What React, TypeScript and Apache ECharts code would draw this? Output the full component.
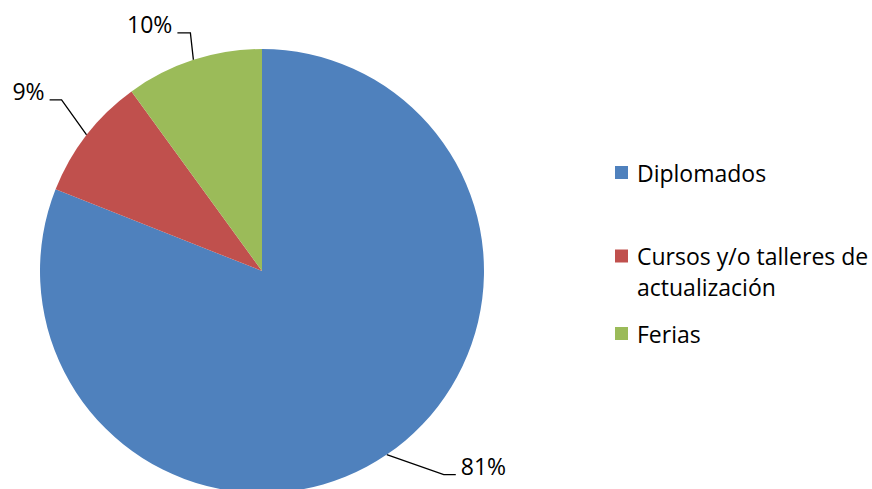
import React, { useEffect, useRef } from "react";
import * as echarts from "echarts";

const categories = ["Diplomados", "Cursos y/o talleres de actualización", "Ferias"];
const values = [81, 9, 10];
// blank first line keeps the legend square level with the first text line
const legendLabels = ["Diplomados", "\nCursos y/o talleres de\nactualización", "Ferias"];

const COLORS = ["#4F81BD", "#C0504D", "#9BBB59"];
const FONT = "Open Sans";
const FONT_SIZE = 23;

// leader-line shape per slice: elbow offset from slice edge, horizontal tail length
const LEADERS = [
  { ex: 57, ey: 20, len2: 12 },
  { ex: -25, ey: -35, len2: 12 },
  { ex: -3, ey: -27, len2: 13 },
];

const LEGEND_TOPS = [157, 209.5, 318];

export default function App() {
  const ref = useRef<HTMLDivElement>(null);

  useEffect(() => {
    if (!ref.current) return;
    const chart = echarts.init(ref.current, undefined, { renderer: "svg" });

    const legends = categories.map((name, i) => ({
      data: [name],
      orient: "vertical",
      left: 615,
      top: LEGEND_TOPS[i],
      padding: 0,
      icon: "rect",
      itemWidth: 13,
      itemHeight: 13,
      selectedMode: false,
      formatter: () => legendLabels[i],
      textStyle: {
        fontFamily: FONT,
        fontSize: FONT_SIZE,
        color: "#000",
        lineHeight: 31,
        padding: [0, 0, 0, 4],
      },
    }));

    chart.setOption({
      animation: false,
      backgroundColor: "#fff",
      color: COLORS,
      legend: legends,
      series: [
        {
          type: "pie",
          center: [262, 271],
          radius: 222,
          startAngle: 90,
          clockwise: true,
          avoidLabelOverlap: false,
          itemStyle: { borderWidth: 0 },
          data: categories.map((name, i) => ({ name, value: values[i] })),
          label: {
            show: true,
            position: "outside",
            formatter: "{c}%",
            fontFamily: FONT,
            fontSize: FONT_SIZE,
            color: "#000",
          },
          labelLine: {
            show: true,
            length: 20,
            length2: 12,
            smooth: false,
            lineStyle: { color: "#000", width: 1.3 },
          },
          labelLayout: (params: any) => {
            const pts = params.labelLinePoints;
            if (!pts || !pts[0]) return {};
            const p0 = pts[0];
            const L = LEADERS[params.dataIndex];
            const s = L.ex >= 0 ? 1 : -1;
            const elbow = [p0[0] + L.ex, p0[1] + L.ey];
            const end = [elbow[0] + s * L.len2, elbow[1]];
            return {
              x: end[0] + s * 5,
              y: end[1] - 9,
              align: s > 0 ? "left" : "right",
              verticalAlign: "middle",
              labelLinePoints: [p0, elbow, end],
            };
          },
          emphasis: { disabled: true },
        },
      ],
    });

    return () => chart.dispose();
  }, []);

  return (
    <div
      ref={ref}
      style={{ position: "fixed", left: 0, top: 0, width: 872, height: 489, background: "#fff" }}
    />
  );
}
